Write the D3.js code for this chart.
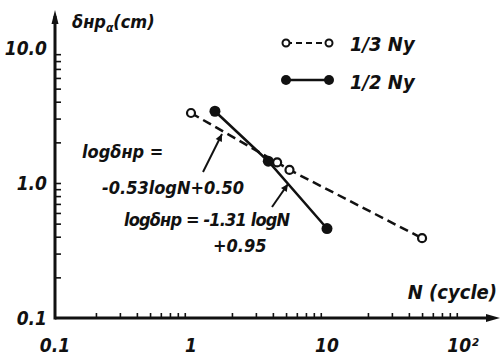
<!DOCTYPE html>
<html>
<head>
<meta charset="utf-8">
<script src="https://cdn.jsdelivr.net/npm/d3@7"></script>
<style>
  body { margin: 0; background: #fff; }
  text { font-family: "DejaVu Sans Condensed", "DejaVu Sans", sans-serif; font-style: italic; font-weight: bold; fill: #111; }
</style>
</head>
<body>
<div id="chart"></div>
<script>
// series (N, deflection in cm)
const thirdNy = [[1.0, 3.3], [4.3, 1.42], [5.3, 1.25], [50, 0.39]];
const halfNy = [[1.5, 3.4], [3.7, 1.45], [10, 0.46]];
const xMajor = [0.1, 1, 10, 100];
const xLabels = ['0.1', '1', '10', '10²'];
const yMajor = [0.1, 1, 10];
const yLabels = ['0.1', '1.0', '10.0'];

const width = 501, height = 356;
const svg = d3.select('#chart').append('svg').attr('width', width).attr('height', height);

const x = d3.scaleLog().domain([0.1, 100]).range([55, 463]);
const y = d3.scaleLog().domain([0.1, 10]).range([318, 48]);

const minorX = [];
[0.1, 1, 10].forEach(d => { for (let k = 2; k <= 9; k++) minorX.push(d * k); });
const minorY = [];
[0.1, 1].forEach(d => { for (let k = 2; k <= 9; k++) minorY.push(d * k); });

// minor ticks
svg.append('g')
  .attr('transform', `translate(0,${y(0.1)})`)
  .call(d3.axisBottom(x).tickValues(minorX).tickSize(-5).tickFormat(''))
  .call(g => g.select('.domain').remove())
  .selectAll('line').attr('stroke', '#111').attr('stroke-width', 1.6);

svg.append('g')
  .attr('transform', `translate(${x(0.1)},0)`)
  .call(d3.axisLeft(y).tickValues(minorY.concat([1])).tickSize(-6).tickFormat(''))
  .call(g => g.select('.domain').remove())
  .selectAll('line').attr('stroke', '#111').attr('stroke-width', 1.6);

// axis lines with arrows
svg.append('line').attr('x1', x(0.1)).attr('y1', y(0.1)).attr('x2', 492).attr('y2', y(0.1))
  .attr('stroke', '#111').attr('stroke-width', 3);
svg.append('path').attr('d', `M500,${y(0.1)} L486,${y(0.1) - 4} L486,${y(0.1) + 4} Z`).attr('fill', '#111');
svg.append('line').attr('x1', x(0.1)).attr('y1', y(0.1) + 1.5).attr('x2', x(0.1)).attr('y2', 16)
  .attr('stroke', '#111').attr('stroke-width', 3);
svg.append('path').attr('d', `M${x(0.1)},10 L${x(0.1) - 3.5},24 L${x(0.1) + 3.5},24 Z`).attr('fill', '#111');

// tick labels
svg.selectAll('.xl').data(xMajor).enter().append('text')
  .attr('x', d => x(d)).attr('y', 352).attr('text-anchor', 'middle')
  .attr('font-size', 19).text((d, i) => xLabels[i]);
svg.selectAll('.yl').data(yMajor).enter().append('text')
  .attr('x', 47).attr('y', d => y(d) + 7).attr('text-anchor', 'end')
  .attr('font-size', 19).text((d, i) => yLabels[i]);

// axis titles
svg.append('text').attr('x', 72).attr('y', 28).attr('font-size', 18)
  .html('δнр<tspan font-size="12" dy="4">α</tspan><tspan dy="-4">(cm)</tspan>');
svg.append('text').attr('x', 497).attr('y', 299).attr('text-anchor', 'end')
  .attr('font-size', 20).attr('font-weight', 'normal').text('N (cycle)');

const line = d3.line().x(d => x(d[0])).y(d => y(d[1]));

// 1/3 Ny dashed
svg.append('path').datum(thirdNy).attr('d', line).attr('fill', 'none')
  .attr('stroke', '#111').attr('stroke-width', 2.5).attr('stroke-dasharray', '9,5');
// 1/2 Ny solid
svg.append('path').datum(halfNy).attr('d', line).attr('fill', 'none')
  .attr('stroke', '#111').attr('stroke-width', 2.5);

svg.selectAll('.p2').data(halfNy).enter().append('circle')
  .attr('cx', d => x(d[0])).attr('cy', d => y(d[1])).attr('r', 5.5).attr('fill', '#111');
svg.selectAll('.p3').data(thirdNy).enter().append('circle')
  .attr('cx', d => x(d[0])).attr('cy', d => y(d[1])).attr('r', 4)
  .attr('fill', '#fff').attr('stroke', '#111').attr('stroke-width', 2.2);

// legend
const lg = svg.append('g');
lg.append('line').attr('x1', 286).attr('y1', 43).attr('x2', 329).attr('y2', 43)
  .attr('stroke', '#111').attr('stroke-width', 2).attr('stroke-dasharray', '6,4');
lg.selectAll('.lo').data([286, 329]).enter().append('circle')
  .attr('cx', d => d).attr('cy', 43).attr('r', 3.5).attr('fill', '#fff').attr('stroke', '#111').attr('stroke-width', 2);
lg.append('text').attr('x', 350).attr('y', 51).attr('font-size', 20).text('1/3 Ny');
lg.append('line').attr('x1', 286).attr('y1', 80).attr('x2', 329).attr('y2', 80)
  .attr('stroke', '#111').attr('stroke-width', 2.5);
lg.selectAll('.lf').data([286, 329]).enter().append('circle')
  .attr('cx', d => d).attr('cy', 80).attr('r', 5).attr('fill', '#111');
lg.append('text').attr('x', 350).attr('y', 89).attr('font-size', 20).text('1/2 Ny');

// equations and pointers
svg.append('text').attr('x', 82).attr('y', 158).attr('font-size', 18).text('logδнр =');
svg.append('text').attr('x', 102).attr('y', 194).attr('font-size', 18).text('-0.53logN+0.50');
svg.append('text').attr('x', 124).attr('y', 226).attr('font-size', 18)
  .attr('textLength', 166).text('logδнр = -1.31 logN');
svg.append('text').attr('x', 213).attr('y', 252).attr('font-size', 18).text('+0.95');

function pointer(x1, y1, x2, y2) {
  svg.append('line').attr('x1', x1).attr('y1', y1).attr('x2', x2).attr('y2', y2)
    .attr('stroke', '#111').attr('stroke-width', 2);
  const a = Math.atan2(y2 - y1, x2 - x1);
  const L = 8, w = 0.45;
  svg.append('path').attr('d', `M${x2},${y2} L${x2 - L * Math.cos(a - w)},${y2 - L * Math.sin(a - w)} L${x2 - L * Math.cos(a + w)},${y2 - L * Math.sin(a + w)} Z`)
    .attr('fill', '#111');
}
pointer(203, 172, 222, 134);
pointer(272, 207, 288, 184);
</script>
</body>
</html>
